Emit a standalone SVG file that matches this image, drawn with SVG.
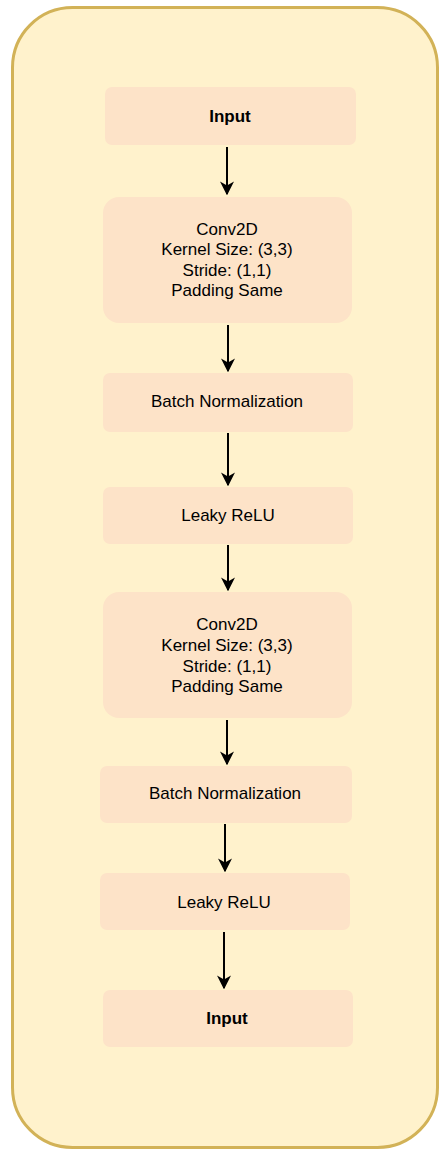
<svg xmlns="http://www.w3.org/2000/svg" width="439" height="1150" viewBox="0 0 439 1150">
  <style>
    .box { fill: #fde3c8; }
    .lbl { font-family: "Liberation Sans", Arial, sans-serif; font-size: 17px; fill: #000; text-anchor: middle; dominant-baseline: central; }
    .bold { font-weight: bold; }
    .edge { stroke: #000; stroke-width: 2; fill: none; marker-end: url(#arrow); }
  </style>
  <defs>
    <marker id="arrow" viewBox="0 0 10 10" refX="9" refY="5" markerWidth="7" markerHeight="7" markerUnits="strokeWidth" orient="auto">
      <path d="M0,0 L10,5 L0,10 L3,5 Z" fill="#000"/>
    </marker>
  </defs>

  <!-- outer container -->
  <g id="container">
    <rect x="12.5" y="7.5" width="425" height="1140" rx="60" ry="60" fill="#fff2cc" stroke="#d2b257" stroke-width="3"/>
  </g>

  <g id="input-top">
    <rect class="box" x="105" y="87" width="251" height="58" rx="7"/>
    <text class="lbl bold" x="230" y="116">Input</text>
  </g>

  <g id="conv2d-1">
    <rect class="box" x="103" y="197" width="249" height="126" rx="16"/>
    <text class="lbl" x="227" y="229">Conv2D</text>
    <text class="lbl" x="227" y="249">Kernel Size: (3,3)</text>
    <text class="lbl" x="227" y="270">Stride: (1,1)</text>
    <text class="lbl" x="227" y="290">Padding Same</text>
  </g>

  <g id="batchnorm-1">
    <rect class="box" x="103" y="373" width="250" height="59" rx="7"/>
    <text class="lbl" x="227" y="401">Batch Normalization</text>
  </g>

  <g id="leakyrelu-1">
    <rect class="box" x="103" y="487" width="250" height="57" rx="7"/>
    <text class="lbl" x="228" y="515">Leaky ReLU</text>
  </g>

  <g id="conv2d-2">
    <rect class="box" x="103" y="592" width="249" height="126" rx="16"/>
    <text class="lbl" x="227" y="624">Conv2D</text>
    <text class="lbl" x="227" y="645">Kernel Size: (3,3)</text>
    <text class="lbl" x="227" y="666">Stride: (1,1)</text>
    <text class="lbl" x="227" y="686">Padding Same</text>
  </g>

  <g id="batchnorm-2">
    <rect class="box" x="100" y="766" width="252" height="57" rx="7"/>
    <text class="lbl" x="225" y="793">Batch Normalization</text>
  </g>

  <g id="leakyrelu-2">
    <rect class="box" x="100" y="873" width="250" height="57" rx="7"/>
    <text class="lbl" x="224" y="902">Leaky ReLU</text>
  </g>

  <g id="input-bottom">
    <rect class="box" x="103" y="990" width="250" height="57" rx="7"/>
    <text class="lbl bold" x="227" y="1018">Input</text>
  </g>

  <g id="connectors">
    <path class="edge" d="M227,147 V194"/>
    <path class="edge" d="M228,325 V371"/>
    <path class="edge" d="M228,433 V485"/>
    <path class="edge" d="M228,545 V590"/>
    <path class="edge" d="M227,720 V764"/>
    <path class="edge" d="M225,824 V871"/>
    <path class="edge" d="M224,932 V988"/>
  </g>
</svg>
